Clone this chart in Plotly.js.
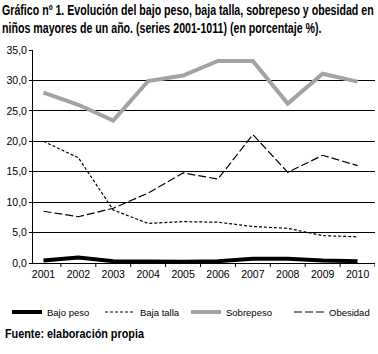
<!DOCTYPE html>
<html>
<head>
<meta charset="utf-8">
<script src="https://cdn.plot.ly/plotly-3.0.1.min.js"></script>
<style>html,body{margin:0;padding:0;background:#fff;}#chart{width:378px;height:354px;}</style>
</head>
<body>
<div id="chart"></div>
<script>
var years = [2001, 2002, 2003, 2004, 2005, 2006, 2007, 2008, 2009, 2010];
var bajoPeso = [0.4, 0.9, 0.3, 0.2, 0.2, 0.3, 0.7, 0.7, 0.4, 0.3];
var bajaTalla = [20.0, 17.3, 8.7, 6.5, 6.8, 6.7, 6.0, 5.7, 4.5, 4.3];
var sobrepeso = [28.0, 26.0, 23.4, 29.9, 30.8, 33.2, 33.2, 26.2, 31.1, 29.8];
var obesidad = [8.5, 7.6, 9.0, 11.5, 14.8, 13.8, 21.1, 14.9, 17.7, 16.0];
var yTicks = [0, 5, 10, 15, 20, 25, 30, 35];
var yearBounds = [2001.5, 2002.5, 2003.5, 2004.5, 2005.5, 2006.5, 2007.5, 2008.5, 2009.5, 2010.5];

var FONT = '"Liberation Sans", Arial, sans-serif';
var W = 378, H = 354;
var PLOT_H = 213;
var XR = [2000.7, 2010.5];

var traces = [
  {x: years, y: bajoPeso, name: 'Bajo peso', legend: 'legend', mode: 'lines', line: {color: '#000000', width: 4}},
  {x: years, y: bajaTalla, name: 'Baja talla', legend: 'legend2', mode: 'lines', line: {color: '#000000', width: 1.2, dash: '3px,2px'}},
  {x: years, y: sobrepeso, name: 'Sobrepeso', legend: 'legend3', mode: 'lines', line: {color: '#a3a3a3', width: 4}},
  {x: years, y: obesidad, name: 'Obesidad', legend: 'legend4', mode: 'lines', line: {color: '#000000', width: 1.2, dash: '8px,3px'}}
];

function legendAt(px) {
  return {
    orientation: 'h', xref: 'container', yref: 'container',
    x: px / W, xanchor: 'left', y: 1 - 312 / H, yanchor: 'middle',
    font: {family: FONT, size: 9.5, color: '#000'},
    itemwidth: 30, bgcolor: 'rgba(0,0,0,0)'
  };
}

var tickShapes = yearBounds.map(function (b) {
  return {type: 'line', xref: 'x', yref: 'paper', x0: b, x1: b, y0: 0, y1: -4 / PLOT_H,
          line: {color: '#000', width: 1}};
});

var layout = {
  width: W, height: H,
  margin: {l: 33, r: 3, t: 50, b: 91},
  paper_bgcolor: '#ffffff', plot_bgcolor: '#ffffff',
  separators: ',.',
  showlegend: true,
  font: {family: FONT, size: 10, color: '#000'},
  xaxis: {
    range: XR,
    tickmode: 'array', tickvals: years, ticktext: years.map(String),
    ticks: 'outside', ticklen: 1, tickcolor: 'rgba(0,0,0,0)',
    showgrid: false, zeroline: false,
    showline: true, linecolor: '#000', linewidth: 1,
    tickfont: {family: FONT, size: 10.5, color: '#000'}
  },
  yaxis: {
    range: [0, 35],
    tickvals: yTicks, tickformat: '.1f',
    showgrid: true, gridcolor: '#000', gridwidth: 1,
    zeroline: false, showline: true, linecolor: '#000', linewidth: 1,
    ticks: 'outside', ticklen: 3, tickcolor: '#000',
    tickfont: {family: FONT, size: 10.5, color: '#000'}
  },
  shapes: tickShapes,
  legend: legendAt(7),
  legend2: legendAt(100),
  legend3: legendAt(186),
  legend4: legendAt(289),
  annotations: [
    {xref: 'paper', yref: 'paper', x: -33/342, y: 1 + 50/PLOT_H, xanchor: 'left', yanchor: 'top', showarrow: false, align: 'left',
     text: '<b>Gráfico nº 1. Evolución del bajo peso, baja talla, sobrepeso y obesidad en<br>niños mayores de un año. (series 2001-1011) (en porcentaje %).</b>',
     font: {family: FONT, size: 14, color: '#000'}},
    {xref: 'paper', yref: 'paper', x: -30/342, y: -(334 - 263)/PLOT_H, xanchor: 'left', yanchor: 'middle', showarrow: false, align: 'left',
     text: '<b>Fuente: elaboración propia</b>',
     font: {family: FONT, size: 12.5, color: '#000'}}
  ]
};

function condense(textEl, targetW) {
  var bb = textEl.getBBox();
  if (!bb.width) return;
  var s = targetW / bb.width;
  var prev = textEl.getAttribute('transform') || '';
  textEl.setAttribute('transform', prev + ' translate(' + bb.x + ',0) scale(' + s + ',1) translate(' + (-bb.x) + ',0)');
}

Plotly.newPlot('chart', traces, layout, {displayModeBar: false, staticPlot: true}).then(function (gd) {
  var anns = gd.querySelectorAll('.annotation-text');
  anns.forEach(function (t) {
    var s = t.textContent;
    if (s.indexOf('Gráfico') === 0) condense(t, 372);
    else if (s.indexOf('Fuente') === 0) condense(t, 140);
  });
});
</script>
</body>
</html>
